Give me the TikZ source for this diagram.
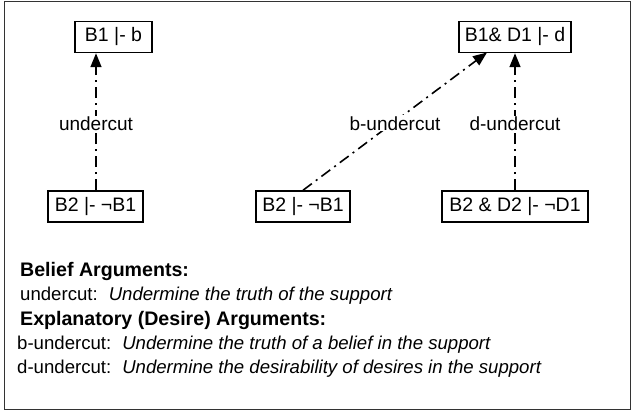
\documentclass[tikz,border=0pt]{standalone}
\usepackage{fontspec}
\setmainfont{Liberation Sans}
\usetikzlibrary{arrows.meta}
\begin{document}
\begin{tikzpicture}[x=1pt,y=-1pt,
  arg/.style={draw,line width=1.5pt,minimum height=31pt,inner sep=0pt,font=\fontsize{19.5}{21}\selectfont},
  att/.style={line width=1.6pt,dash pattern=on 11pt off 5pt on 2pt off 5pt,-{Triangle[length=14pt,width=11pt]}},
  lbl/.style={fill=white,inner sep=1pt,font=\fontsize{19}{21}\selectfont},
  txt/.style={anchor=base west,inner sep=0pt,font=\fontsize{18.6}{20}\selectfont},
  hdr/.style={anchor=base west,inner sep=0pt,font=\fontsize{19.6}{21}\selectfont\bfseries}]
\useasboundingbox (0,0) rectangle (631,414);
\draw[line width=1pt,draw=black!80] (4,2) rectangle (630,409);
\node[arg,minimum width=77pt] (b1) at (113.5,37) {B1 |- b};
\node[arg,minimum width=95pt] (b2l) at (95.5,206.5) {B2 |- ¬B1};
\node[arg,minimum width=112pt] (bd1) at (515,37) {B1\& D1 |- d};
\node[arg,minimum width=94pt] (b2m) at (303,206.5) {B2 |- ¬B1};
\node[arg,minimum width=146pt] (bd2) at (515,206.5) {B2 \& D2 |- ¬D1};
\coordinate (t1) at (487,52.5);
\draw[att] (b2l.north -| 96,0) -- node[lbl,yshift=-2pt] {undercut} (b1.south -| 96,0);
\draw[att] (b2m.north) -- node[lbl,yshift=-2pt] {b-undercut} (t1);
\draw[att] (bd2.north) -- node[lbl,yshift=-2pt] {d-undercut} (bd1.south);
\node[hdr] (h1) at (20,276) {Belief Arguments:};
\node[txt] (u1) at (20,300) {undercut:\hspace{11pt}\itshape Undermine the truth of the support};
\node[hdr] (h2) at (20,325) {Explanatory (Desire) Arguments:};
\node[txt] (u2) at (17,349.5) {b-undercut:\hspace{11pt}\itshape Undermine the truth of a belief in the support};
\node[txt] (u3) at (17,373) {d-undercut:\hspace{11pt}\itshape Undermine the desirability of desires in the support};
\end{tikzpicture}
\end{document}
